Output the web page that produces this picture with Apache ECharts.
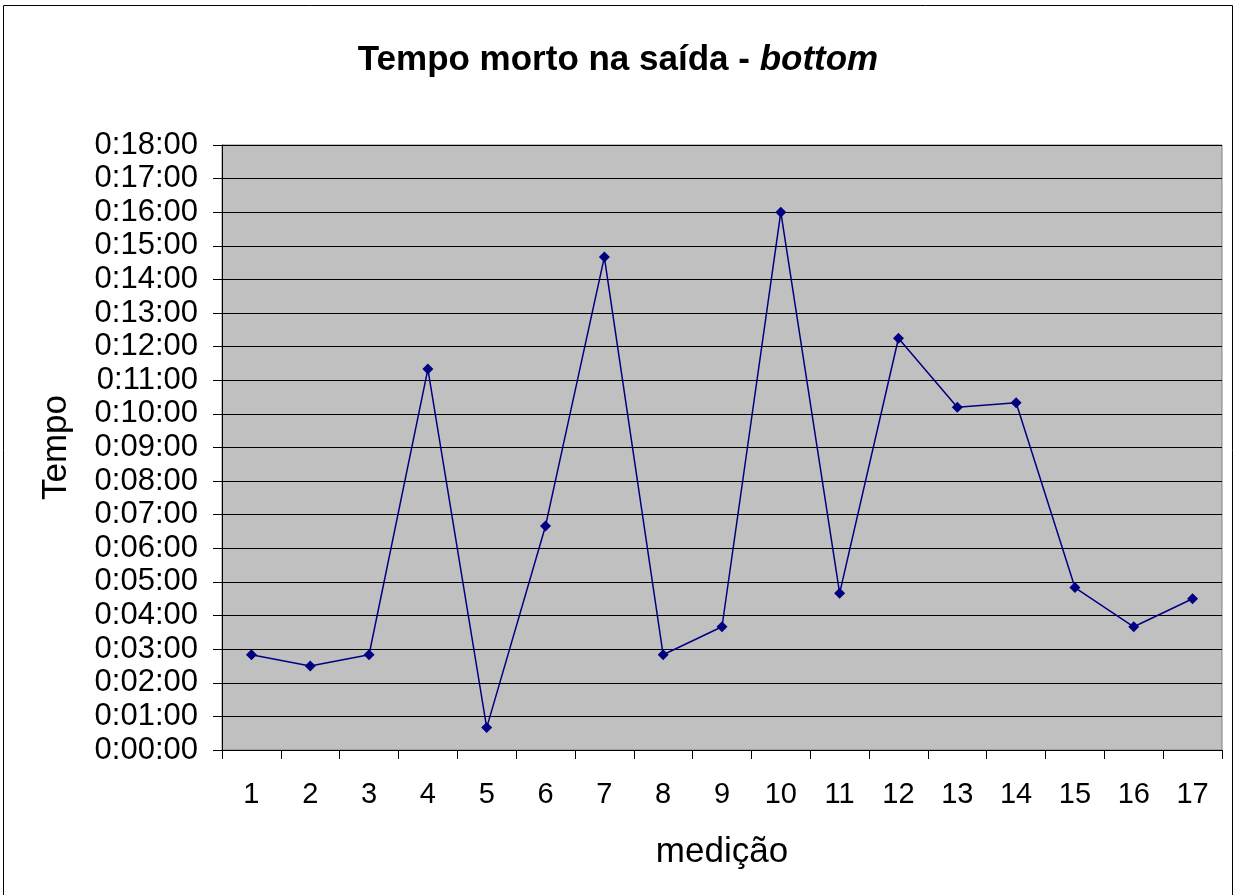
<!DOCTYPE html>
<html>
<head>
<meta charset="utf-8">
<script src="https://cdn.jsdelivr.net/npm/echarts@6/dist/echarts.min.js"></script>
<style>
  html, body { margin: 0; padding: 0; background: #fff; }
  #main { width: 1236px; height: 895px; }
</style>
</head>
<body>
<div id="main"></div>
<script>
// medições (eixo x)
var medicoes = ['1', '2', '3', '4', '5', '6', '7', '8', '9', '10', '11', '12', '13', '14', '15', '16', '17'];
// tempo morto em segundos
var tempoSeg = [170, 150, 170, 680, 40, 400, 880, 170, 220, 960, 280, 735, 612, 620, 290, 220, 270];
// eixo y: 0:00:00 .. 0:18:00 de minuto em minuto
var yMax = 1080;
var yStep = 60;

function fmtTempo(v) {
  var m = Math.floor(v / 60);
  var s = Math.round(v % 60);
  return '0:' + (m < 10 ? '0' : '') + m + ':' + (s < 10 ? '0' : '') + s;
}

var myChart = echarts.init(document.getElementById('main'));

myChart.setOption({
  backgroundColor: '#fff',
  animation: false,
  textStyle: { fontFamily: 'Liberation Sans, Arial, sans-serif' },
  title: {
    text: '{b|Tempo morto na saída - }{i|bottom}',
    left: 'center',
    top: 38,
    textStyle: {
      rich: {
        b: { fontSize: 35, fontWeight: 'bold', color: '#000', fontFamily: 'Liberation Sans' },
        i: { fontSize: 35, fontWeight: 'bold', fontStyle: 'italic', color: '#000', fontFamily: 'Liberation Sans' }
      }
    }
  },
  graphic: [{
    type: 'rect',
    shape: { x: 3.5, y: 5.5, width: 1229, height: 900 },
    style: { fill: 'none', stroke: '#000', lineWidth: 1 },
    silent: true
  }],
  grid: {
    left: 222,
    right: 14,
    top: 145,
    bottom: 145,
    show: true,
    backgroundColor: '#C0C0C0',
    borderColor: '#808080',
    borderWidth: 1
  },
  xAxis: {
    type: 'category',
    data: medicoes,
    boundaryGap: true,
    name: 'medição',
    nameLocation: 'middle',
    nameGap: 85,
    nameTextStyle: { fontSize: 35, color: '#000' },
    axisLine: { lineStyle: { color: '#000', width: 1 } },
    axisTick: { show: true, length: 9, lineStyle: { color: '#000' } },
    axisLabel: { fontSize: 29, color: '#000', margin: 30 },
    splitLine: { show: false }
  },
  yAxis: {
    type: 'value',
    min: 0,
    max: yMax,
    interval: yStep,
    name: 'Tempo',
    nameLocation: 'middle',
    nameGap: 148,
    nameRotate: 90,
    nameTextStyle: { fontSize: 35, color: '#000' },
    axisLine: { show: true, lineStyle: { color: '#000', width: 1 } },
    axisTick: { show: true, length: 9, lineStyle: { color: '#000' } },
    axisLabel: { fontSize: 31, color: '#000', margin: 24, formatter: fmtTempo },
    splitLine: { show: true, lineStyle: { color: '#000', width: 1 } }
  },
  series: [{
    type: 'line',
    data: tempoSeg,
    symbol: 'diamond',
    symbolSize: 11,
    itemStyle: { color: '#000080' },
    lineStyle: { color: '#000080', width: 1.5 }
  }]
});
</script>
</body>
</html>
